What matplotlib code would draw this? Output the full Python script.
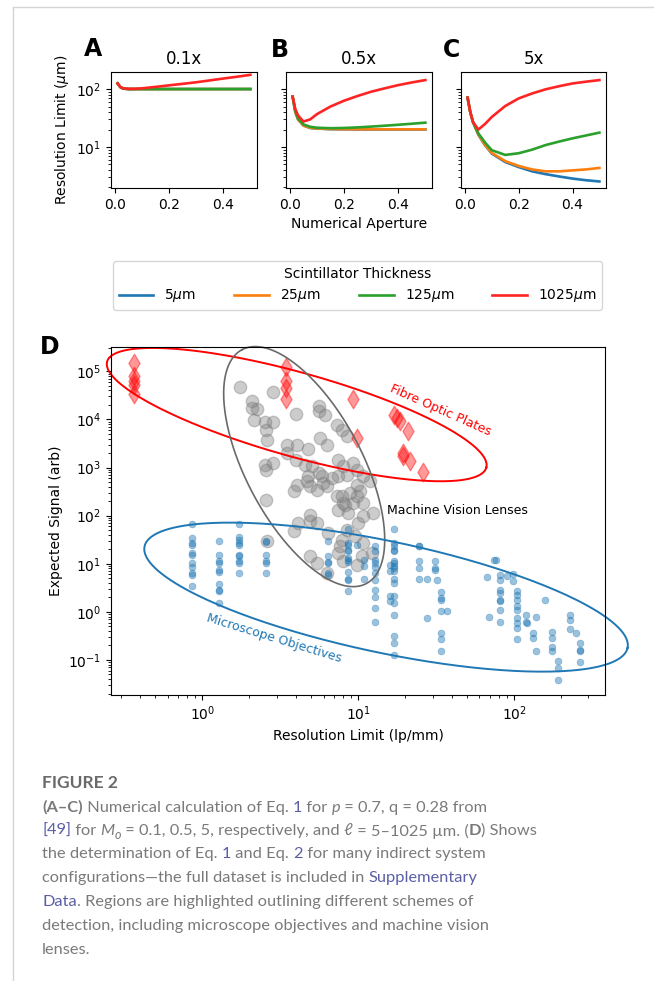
import numpy as np
import matplotlib.pyplot as plt
from matplotlib.lines import Line2D

plt.rcParams['font.size'] = 10

# --- Paneles A-C: limite de resolucion vs apertura numerica ---
na = [0.01, 0.02, 0.03, 0.05, 0.075, 0.1, 0.15, 0.2, 0.25, 0.3, 0.35, 0.4, 0.45, 0.5]

resA_5 = [125, 108, 102, 100, 100, 100, 100, 100, 100, 100, 100, 100, 100, 100]
resA_25 = [125, 108, 102, 100, 100, 100, 100, 100, 100, 100, 100, 100, 100, 100]
resA_125 = [125, 108, 102, 100, 100, 100, 100, 100, 100, 100, 100, 100, 100, 100]
resA_1025 = [125, 108, 103, 101, 101, 103, 109, 116, 123, 131, 141, 152, 163, 176]

resB_5 = [74, 40, 30, 23.5, 21.3, 20.8, 20.3, 20.2, 20.1, 20.1, 20.1, 20.1, 20.1, 20.1]
resB_25 = [74, 40, 30, 23.5, 21.4, 20.9, 20.4, 20.3, 20.2, 20.2, 20.2, 20.2, 20.2, 20.2]
resB_125 = [74, 41, 31, 24.5, 22.3, 21.5, 21.1, 21.3, 21.8, 22.5, 23.3, 24.2, 25.2, 26.3]
resB_1025 = [74, 45, 35, 27.5, 30, 37, 50, 63, 76, 90, 103, 117, 130, 143]

resC_5 = [71, 40, 27, 16.3, 10.7, 7.7, 5.5, 4.5, 3.8, 3.4, 3.1, 2.85, 2.67, 2.54]
resC_25 = [71, 40, 27, 16.5, 10.8, 7.9, 5.7, 4.7, 4.1, 3.8, 3.8, 3.95, 4.1, 4.35]
resC_125 = [71, 40, 27, 17.2, 11.9, 8.8, 7.3, 7.8, 9.0, 10.8, 12.4, 14.1, 15.8, 17.7]
resC_1025 = [71, 40, 27, 20, 25, 33, 51, 69, 84, 99, 112, 125, 134, 143]

mags = ['0.1x', '0.5x', '5x']
thick_labels = ['5$\\mu$m', '25$\\mu$m', '125$\\mu$m', '1025$\\mu$m']
line_cols = ['#1f77b4', '#ff7f0e', '#2ca02c', '#ff2424']

# --- Panel D: sistemas indirectos ---
# objetivos de microscopio (lp/mm, senal)
mo_res = ([0.86] * 11 + [1.29] * 10 + [1.73] * 10 + [2.57] * 6 + [6.4] * 6
          + [8.6] * 12 + [9.8] + [10.9] * 3 + [12.9] * 11 + [16.9] * 18 + [16.0] * 4
          + [24.7] * 5 + [27.8] * 2 + [31.2] * 3 + [32.2] + [34.2] * 7 + [37]
          + [67, 69, 74, 77] + [80.8] * 8 + [89.8] + [99] * 2 + [104] * 9
          + [119] * 2 + [121] + [138] * 2 + [133] * 2 + [159] + [176] * 4
          + [192] * 3 + [229] * 3 + [250] + [265] * 4)
mo_sig = ([68, 34, 27, 24, 17, 15.5, 10.4, 8.6, 6.4, 5.9, 3.5]
          + [29.8, 15, 11.2, 10.4, 7.3, 6.8, 3.86, 2.9, 2.67, 1.53]
          + [68, 36, 31.7, 27, 24, 15.5, 14.3, 11.2, 10.4, 6.4]
          + [30, 28, 15.5, 11.2, 10.4, 6.4]
          + [29, 14.3, 10.7, 10.4, 6.4, 5.9]
          + [53, 27, 25, 19.6, 18.1, 13.2, 12.2, 10.7, 6.6, 4.8, 4.5, 2.76]
          + [25]
          + [12.2, 8.8, 4.9]
          + [23.8, 18.1, 12.2, 10.4, 8.6, 6.4, 4.5, 2.9, 2.04, 1.2, 0.605]
          + [53, 27, 23, 19.6, 18.1, 11.6, 10.4, 9.1, 8.2, 7.0, 4.9, 4.0, 2.1, 1.53,
             0.87, 0.31, 0.22, 0.129]
          + [9.6, 7.0, 2.1, 1.65]
          + [23.8, 23, 11.6, 8.2, 4.8]
          + [4.8, 0.75]
          + [11.2, 8.2, 7.5] + [4.7]
          + [2.54, 1.95, 1.8, 1.06, 0.364, 0.273, 0.156] + [1.06]
          + [5.3, 0.77, 12.2, 12.2]
          + [5.9, 4.5, 2.9, 2.47, 1.8, 1.65, 1.11, 0.63]
          + [5.5] + [6.2, 4.3]
          + [2.67, 2.28, 1.8, 1.3, 1.11, 0.75, 0.59, 0.46, 0.27]
          + [0.87, 0.63] + [0.59] + [0.77, 0.156] + [0.36, 0.29] + [1.73]
          + [0.39, 0.29, 0.19, 0.15] + [0.094, 0.068, 0.039]
          + [0.87, 0.67, 0.43] + [0.36] + [0.22, 0.164, 0.15, 0.089])

# lentes de vision artificial
mv_res = [1.75, 2.84, 2.08, 2.24, 2.08, 2.15, 2.53, 2.86, 2.57, 2.6,
          4.0, 5.57, 6.14, 5.57, 7.3, 7.86, 8.46, 5.7, 6.3, 3.49,
          4.05, 3.49, 4.0, 4.8, 4.57, 5.05, 5.57, 5.85, 2.53, 2.86,
          2.57, 2.57, 4.05, 3.85, 4.8, 4.92, 5.43, 6.3, 7.48, 8.05,
          9.33, 9.8, 7.48, 8.46, 10.8, 11.9, 9.8, 10.3, 7.86, 8.26,
          7.48, 8.67, 10.8, 9.8, 12.5, 10.8, 10.0, 4.92, 4.92, 5.43,
          4.14, 3.85, 6.45, 7.86, 7.67, 7.48, 9.57, 10.8, 12.2, 10.6,
          4.92, 5.43, 6.3, 8.05, 9.8, 8.46, 2.6, 4.69, 5.99, 6.79,
          7.3, 8.89, 8.05, 9.33]
mv_sig = [47400, 37300, 23800, 16500, 17300, 9900, 8700, 8700, 6140, 3800,
          13000, 18700, 12600, 14700, 7800, 6140, 4600, 4120, 2990, 2990,
          2990, 2010, 1460, 2440, 1150, 1060, 772, 657, 1150, 1250,
          904, 215, 442, 320, 657, 406, 347, 406, 1460, 1060,
          1250, 904, 657, 711, 657, 516, 442, 320, 252, 169,
          133, 114, 184, 252, 114, 97, 70, 105, 76, 70,
          70, 47, 43.7, 31.7, 23, 16.8, 37, 27, 16.8, 14.3,
          14.3, 10.4, 6.4, 11.2, 9.6, 51, 29, 516, 475, 600,
          252, 297, 184, 184]

# placas de fibra optica
fop_res = [0.367] * 5 + [3.45] * 4 + [9.3, 9.8, 17.1, 17.7, 18.6, 21, 19.3, 19.5, 21.5, 26]
fop_sig = [1.5e5, 7.9e4, 6.2e4, 5.3e4, 3.3e4, 1.24e5, 6.2e4, 4.5e4, 2.6e4,
           2.67e4, 4120, 12600, 10700, 9100, 5660, 2010, 1710, 1345, 794]

# regiones (centro y semiejes en decadas log10)
fop_c, fop_u, fop_v = (0.606, 4.10), (1.216, -1.102), (-0.072, -0.84)
mv_c, mv_u, mv_v = (0.654, 3.019), (-0.399, 2.43), (0.328, 0.566)
mo_c, mo_u, mo_v = (1.179, 0.306), (1.549, -1.054), (0.073, 1.135)

W, H = 654, 981
fig = plt.figure(figsize=(W / 100, H / 100), dpi=100)


def rect(x0, y0, x1, y1):
    return [x0 / W, 1 - y1 / H, (x1 - x0) / W, (y1 - y0) / H]


axA = fig.add_axes(rect(111, 72, 257, 188))
axB = fig.add_axes(rect(286, 72, 432, 188), sharey=axA)
axC = fig.add_axes(rect(461, 72, 606, 188), sharey=axA)

panel_data = [
    [resA_5, resA_25, resA_125, resA_1025],
    [resB_5, resB_25, resB_125, resB_1025],
    [resC_5, resC_25, resC_125, resC_1025],
]
for ax, mag, curves in zip([axA, axB, axC], mags, panel_data):
    for res, col, lab in zip(curves, line_cols, thick_labels):
        ax.plot(na, res, color=col, lw=1.9, label=lab)
    ax.set_yscale('log')
    ax.set_title(mag)
    ax.set_xticks([0.0, 0.2, 0.4])
axA.set_ylim(1.96, 197)
axA.set_xlim(-0.0145, 0.5245)
axB.tick_params(labelleft=False)
axC.tick_params(labelleft=False)
axA.set_ylabel('Resolution Limit ($\\mu$m)')
axB.set_xlabel('Numerical Aperture')

for lab, x, y in [('A', 93, 49), ('B', 280, 50), ('C', 452, 50), ('D', 50, 347)]:
    fig.text(x / W, 1 - y / H, lab, fontsize=17, fontweight='bold', ha='center', va='center')

handles, labels = axA.get_legend_handles_labels()
fig.legend(handles, labels, title='Scintillator Thickness', ncol=4, loc='lower left',
           bbox_to_anchor=(113 / W, 1 - 310 / H, 489 / W, 45 / H), mode='expand',
           handlelength=2.5, borderaxespad=0, fontsize=10, title_fontsize=10)

# --- Panel D ---
axD = fig.add_axes(rect(111, 347, 605, 695))
axD.scatter(mv_res, mv_sig, s=80, color='gray', alpha=0.4)
axD.scatter(fop_res, fop_sig, s=90, marker='d', color='red', alpha=0.4)
axD.scatter(mo_res, mo_sig, s=25, color='#1f77b4', alpha=0.45, linewidths=0.4)
axD.set_xscale('log')
axD.set_yscale('log')
axD.set_xlim(0.26, 383)
axD.set_ylim(0.0187, 3.2e5)

t = np.linspace(0, 2 * np.pi, 300)
for c, u, v, col, lw in [(fop_c, fop_u, fop_v, 'red', 1.4),
                         (mv_c, mv_u, mv_v, 'dimgray', 1.2),
                         (mo_c, mo_u, mo_v, '#1f77b4', 1.4)]:
    lx = c[0] + u[0] * np.cos(t) + v[0] * np.sin(t)
    ly = c[1] + u[1] * np.cos(t) + v[1] * np.sin(t)
    axD.plot(10 ** lx, 10 ** ly, color=col, lw=lw, clip_on=False)

axD.text(33.6, 15200, 'Fibre Optic Plates', color='red', rotation=-24,
         ha='center', va='center', fontsize=9)
axD.text(2.88, 0.277, 'Microscope Objectives', color='#1f77b4', rotation=-17,
         ha='center', va='center', fontsize=9)
axD.text(15.3, 127, 'Machine Vision Lenses', ha='left', va='center', fontsize=9)
axD.set_xlabel('Resolution Limit (lp/mm)')
axD.set_ylabel('Expected Signal (arb)')

# marco de la pagina
fig.add_artist(Line2D([13 / W, 1], [1 - 7 / H, 1 - 7 / H], color='#d4d4d4', lw=1))
fig.add_artist(Line2D([13 / W, 13 / W], [0, 1 - 7 / H], color='#d4d4d4', lw=1))

# --- pie de figura ---
gray = '#7a7a7a'
link = '#5b5ea6'
cap_font = ['Lato', 'DejaVu Sans']
cap_size = 11.8
rend = fig.canvas.get_renderer()


def seg_width(txt, **kw):
    props = dict(family=cap_font, fontsize=kw.get('size', cap_size),
                 fontweight=kw.get('weight', 'normal'), fontstyle=kw.get('style', 'normal'))
    a = fig.text(0, 0, '|' + txt + '|', **props)
    b = fig.text(0, 0, '||', **props)
    w = a.get_window_extent(rend).width - b.get_window_extent(rend).width
    a.remove()
    b.remove()
    return w


def caption_line(y, parts):
    x = 42
    for p in parts:
        txt, col = p[0], p[1]
        kw = p[2] if len(p) > 2 else {}
        dy = kw.get('dy', 0)
        fig.text(x / W, 1 - (y + dy) / H, txt, color=col, family=cap_font,
                 fontsize=kw.get('size', cap_size), fontweight=kw.get('weight', 'normal'),
                 fontstyle=kw.get('style', 'normal'), va='center')
        x += seg_width(txt, **kw)


fig.text(42 / W, 1 - 783 / H, 'FIGURE 2', color='#6a6a6a', family=cap_font,
         fontsize=12.5, fontweight='bold', va='center')
bold = {'weight': 'bold'}
ital = {'style': 'italic'}
caption_line(807.7, [('(A–C)', gray, bold), (' Numerical calculation of Eq. ', gray), ('1', link),
                     (' for ', gray), ('p', gray, ital), (' = 0.7, q = 0.28 from', gray)])
caption_line(831, [('[49]', link), (' for ', gray), ('M', gray, ital),
                   ('o', gray, {'style': 'italic', 'size': 9, 'dy': 4}),
                   (' = 0.1, 0.5, 5, respectively, and ', gray), ('ℓ', gray),
                   (' = 5–1025 µm. (', gray), ('D', gray, bold), (') Shows', gray)])
caption_line(854.3, [('the determination of Eq. ', gray), ('1', link), (' and Eq. ', gray),
                     ('2', link), (' for many indirect system', gray)])
caption_line(878.3, [('configurations—the full dataset is included in ', gray),
                     ('Supplementary', link)])
caption_line(902.3, [('Data', link), ('. Regions are highlighted outlining different schemes of', gray)])
caption_line(925.7, [('detection, including microscope objectives and machine vision', gray)])
caption_line(950, [('lenses.', gray)])

fig.savefig('out.png', dpi=100)
